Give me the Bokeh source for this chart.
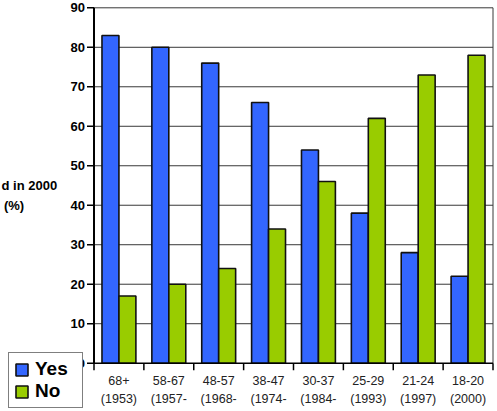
from bokeh.plotting import figure
from bokeh.models import Range1d, Legend, LegendItem, ColumnDataSource
from bokeh.core.properties import value
from bokeh.embed import file_html
from bokeh.resources import INLINE

categories = ["68+\n(1953)", "58-67\n(1957-\n1966)", "48-57\n(1968-\n1973)",
              "38-47\n(1974-\n1983)", "30-37\n(1984-\n1990)", "25-29\n(1993)",
              "21-24\n(1997)", "18-20\n(2000)"]
yes_values = [83, 80, 76, 66, 54, 38, 28, 22]
no_values = [17, 20, 24, 34, 46, 62, 73, 78]
y_ticks = [0, 10, 20, 30, 40, 50, 60, 70, 80, 90]
series_names = ["Yes", "No"]
ylabel_lines = ["d in 2000", "(%)"]

BLUE = "#3366FF"
GREEN = "#99CC00"
GRID = "#383838"
FONT = value("Liberation Sans")

W, H = 497, 411
# plotting frame (pixels) inside the canvas
LEFT_PX, RIGHT_PX, TOP_PX, BOTTOM_PX = 93.5, 492.5, 7.3, 362.7
n = len(categories)
ymax = y_ticks[-1]
px_x = (RIGHT_PX - LEFT_PX) / n
px_y = (BOTTOM_PX - TOP_PX) / ymax
x_range = Range1d(-LEFT_PX / px_x, n + (W - RIGHT_PX) / px_x)
y_range = Range1d(-(H - BOTTOM_PX) / px_y, ymax + TOP_PX / px_y)
TICK = 7  # tick length in pixels
tx = TICK / px_x
ty = TICK / px_y

p = figure(width=W, height=H, output_backend="svg", toolbar_location=None,
           x_range=x_range, y_range=y_range, min_border=0,
           x_axis_location=None, y_axis_location=None)
p.grid.visible = False
p.outline_line_color = None
p.background_fill_color = "white"
p.border_fill_color = "white"

centers = [i + 0.5 for i in range(n)]
bw = 0.34

# horizontal grid lines and right border
grid_y = [t for t in y_ticks if t > 0]
p.segment(x0=[0] * len(grid_y), y0=grid_y, x1=[n] * len(grid_y), y1=grid_y,
          line_color=GRID, line_width=1)
p.segment(x0=[n], y0=[0], x1=[n], y1=[ymax], line_color=GRID, line_width=1)

src = ColumnDataSource(dict(
    xb=[c - bw / 2 for c in centers], yes=yes_values,
    xg=[c + bw / 2 for c in centers], no=no_values))
r_yes = p.vbar(x="xb", top="yes", width=bw, source=src, fill_color=BLUE,
               line_color="#111111", line_width=1.6)
r_no = p.vbar(x="xg", top="no", width=bw, source=src, fill_color=GREEN,
              line_color="#111111", line_width=1.6)

# y axis: line, ticks, labels
p.segment(x0=[0], y0=[0], x1=[0], y1=[ymax], line_color="black", line_width=2)
p.segment(x0=[-tx] * len(y_ticks), y0=y_ticks, x1=[0] * len(y_ticks), y1=y_ticks,
          line_color="black", line_width=1.5)
p.text(x=[0] * len(y_ticks), y=y_ticks, text=[str(t) for t in y_ticks],
       x_offset=-9, text_align="right", text_baseline="middle",
       text_font=FONT, text_font_style="bold", text_font_size="13px",
       text_color="black")

# x axis: line, boundary ticks, category labels
bounds = list(range(n + 1))
p.segment(x0=[0], y0=[0], x1=[n], y1=[0], line_color="black", line_width=1.5)
p.segment(x0=bounds, y0=[0] * len(bounds), x1=bounds, y1=[-ty] * len(bounds),
          line_color="black", line_width=1.5)
p.text(x=centers, y=[0] * n, text=categories, y_offset=11,
       text_align="center", text_baseline="top", text_line_height=1.28,
       text_font=FONT, text_font_size="12.5px", text_color="#222222")

# y-axis title (left part cut off in the original)
p.text(x=[0], y=[45], text=[ylabel_lines[0]], x_offset=-92.5,
       text_align="left", text_baseline="middle", text_font=FONT,
       text_font_style="bold", text_font_size="13px", text_color="black")
p.text(x=[0], y=[40], text=[ylabel_lines[1]], x_offset=-80,
       text_align="center", text_baseline="middle", text_font=FONT,
       text_font_style="bold", text_font_size="13px", text_color="black")

legend = Legend(items=[LegendItem(label=series_names[0], renderers=[r_yes]),
                       LegendItem(label=series_names[1], renderers=[r_no])],
                location=(8, 3), orientation="vertical")
legend.label_text_font = "Liberation Sans"
legend.label_text_font_style = "bold"
legend.label_text_font_size = "19px"
legend.label_text_color = "black"
legend.label_height = 18
legend.label_width = 42
legend.glyph_width = 15
legend.glyph_height = 15
legend.label_standoff = 6
legend.spacing = 0
legend.padding = 5
legend.margin = 0
legend.border_line_color = "black"
legend.border_line_width = 1.5
legend.background_fill_color = "white"
legend.background_fill_alpha = 1
p.add_layout(legend, "center")

open("out.html", "w").write(file_html(p, INLINE))
